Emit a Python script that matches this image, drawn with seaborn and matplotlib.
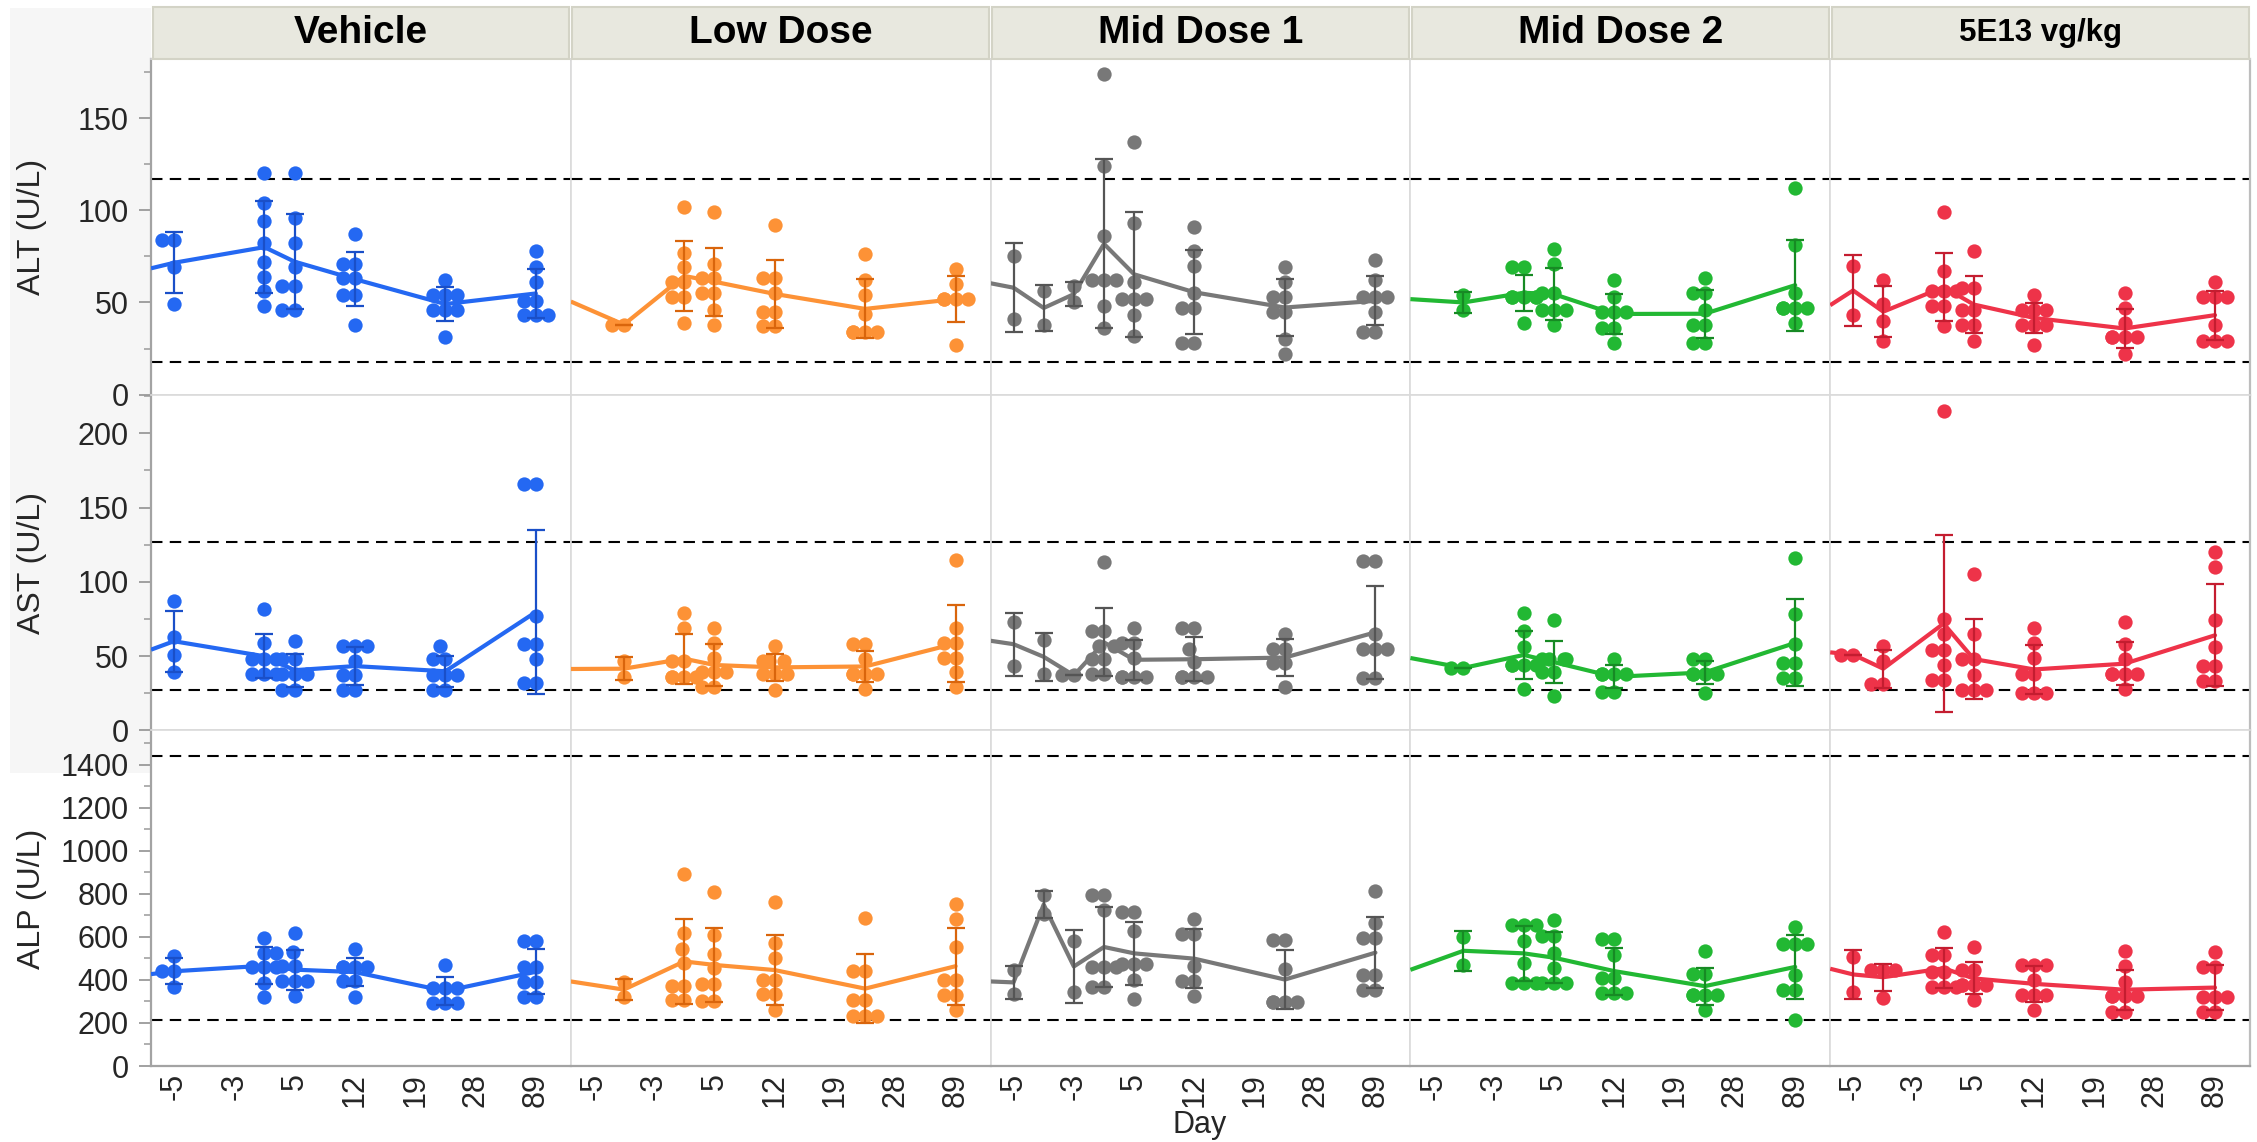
import numpy as np
import pandas as pd
import matplotlib
matplotlib.use("Agg")
import matplotlib.pyplot as plt
from matplotlib.patches import Rectangle
from matplotlib.ticker import MultipleLocator
import seaborn as sns

# ---------------- data ----------------
groups = ["Vehicle", "Low Dose", "Mid Dose 1", "Mid Dose 2", "5E13 vg/kg"]
colors = ["#2468F2", "#FD9236", "#787878", "#22B833", "#EE3349"]
bar_colors = ["#1A4FC8", "#D9650C", "#555555", "#178A24", "#C41D30"]
day_ticks = [0, 1, 2, 3, 4, 5, 6]
day_labels = ["-5", "-3", "5", "12", "19", "28", "89"]

# ALT (U/L): {day position: values}
alt_vehicle = {0: [84, 84, 69, 49], 1.5: [120, 104, 94, 82, 72, 64, 56, 48],
               2: [120, 96, 82, 69, 59, 59, 46, 46], 3: [87, 71, 71, 63, 63, 54, 54, 38],
               4.5: [62, 54, 54, 54, 46, 46, 46, 31], 6: [78, 69, 61, 51, 51, 43, 43, 43]}
alt_low = {0.5: [38, 38], 1.5: [102, 77, 69, 61, 61, 53, 53, 39],
           2: [99, 71, 63, 63, 55, 55, 46, 38], 3: [92, 63, 63, 55, 45, 45, 37, 37],
           4.5: [76, 62, 54, 44, 34, 34, 34, 34], 6: [68, 60, 52, 52, 52, 52, 27]}
alt_mid1 = {0: [75, 41], 0.5: [56, 38], 1: [59, 50], 1.5: [174, 124, 86, 62, 62, 62, 48, 36],
            2: [137, 93, 61, 52, 52, 52, 43, 32], 3: [91, 78, 70, 55, 47, 47, 28, 28],
            4.5: [69, 61, 53, 53, 45, 45, 30, 22], 6: [73, 62, 53, 53, 53, 45, 34, 34]}
alt_mid2 = {0.5: [54, 46], 1.5: [69, 69, 53, 53, 53, 53, 53, 39],
            2: [79, 71, 55, 55, 46, 46, 46, 38], 3: [62, 53, 45, 45, 45, 36, 36, 28],
            4.5: [63, 55, 55, 46, 38, 38, 28, 28], 6: [112, 81, 55, 47, 47, 47, 47, 39]}
alt_high = {0: [70, 43], 0.5: [62, 49, 40, 29], 1.5: [99, 67, 56, 56, 56, 48, 48, 37],
            2: [78, 58, 58, 46, 46, 38, 38, 29], 3: [54, 46, 46, 46, 38, 38, 38, 27],
            4.5: [55, 47, 39, 31, 31, 31, 31, 22], 6: [61, 53, 53, 53, 38, 29, 29, 29]}
alt_lead = [68.5, 50.5, 60.4, 51.8, 48.5]

# AST (U/L)
ast_vehicle = {0: [87, 63, 51, 39], 1.5: [82, 59, 48, 48, 48, 38, 38, 38],
               2: [60, 48, 48, 38, 38, 38, 27, 27], 3: [57, 57, 57, 47, 37, 37, 27, 27],
               4.5: [57, 48, 48, 37, 37, 37, 27, 27], 6: [166, 166, 77, 58, 58, 48, 32, 32]}
ast_low = {0.5: [47, 36], 1.5: [79, 69, 47, 47, 36, 36, 36, 36],
           2: [69, 59, 49, 39, 39, 39, 29, 29], 3: [57, 47, 47, 47, 38, 38, 38, 27],
           4.5: [58, 58, 48, 38, 38, 38, 38, 28], 6: [115, 69, 59, 59, 49, 49, 39, 29]}
ast_mid1 = {0: [73, 43], 0.5: [61, 38], 1: [37, 37], 1.5: [113, 67, 67, 57, 57, 48, 48, 38, 38],
            2: [69, 59, 59, 49, 36, 36, 36, 36], 3: [69, 69, 55, 46, 36, 36, 36, 36],
            4.5: [65, 55, 55, 45, 45, 29], 6: [114, 114, 65, 55, 55, 55, 35, 35]}
ast_mid2 = {0.5: [42, 42], 1.5: [79, 67, 56, 44, 44, 44, 44, 28],
            2: [74, 48, 48, 48, 48, 39, 39, 23], 3: [48, 38, 38, 38, 38, 26, 26],
            4.5: [48, 48, 38, 38, 38, 38, 25], 6: [116, 78, 58, 45, 45, 35, 35]}
ast_high = {0: [51, 51], 0.5: [57, 47, 31, 31], 1.5: [215, 75, 65, 54, 54, 44, 34, 34],
            2: [105, 65, 48, 48, 37, 27, 27, 27], 3: [69, 59, 49, 38, 38, 25, 25, 25],
            4.5: [73, 58, 48, 38, 38, 38, 38, 28], 6: [120, 110, 74, 56, 43, 43, 33, 33]}
ast_lead = [54.3, 41.3, 60.3, 48.7, 52.5]

# ALP (U/L)
alp_vehicle = {0: [512, 442, 442, 365], 1.5: [594, 527, 527, 458, 458, 458, 388, 319],
               2: [616, 532, 466, 466, 393, 393, 393, 323], 3: [543, 461, 461, 461, 461, 393, 393, 319],
               4.5: [469, 364, 364, 364, 292, 292, 292], 6: [583, 583, 458, 458, 391, 391, 319, 319]}
alp_low = {0.5: [390, 320], 1.5: [890, 618, 545, 479, 373, 373, 305, 305],
           2: [809, 610, 522, 455, 381, 381, 300, 300], 3: [761, 572, 502, 401, 401, 334, 334, 262],
           4.5: [688, 443, 443, 305, 305, 231, 231, 231], 6: [753, 683, 553, 401, 401, 331, 331, 258]}
alp_mid1 = {0: [444, 333], 0.5: [794, 707], 1: [581, 344],
            1.5: [794, 794, 724, 459, 459, 459, 368, 368], 2: [715, 715, 628, 472, 472, 472, 401, 313],
            3: [683, 612, 612, 467, 396, 396, 325], 4.5: [586, 586, 452, 297, 297, 297, 297],
            6: [814, 664, 593, 593, 423, 423, 352, 352]}
alp_mid2 = {0.5: [601, 470], 1.5: [657, 657, 657, 582, 480, 385, 385, 385],
            2: [677, 606, 606, 527, 456, 385, 385, 385], 3: [589, 589, 518, 409, 409, 338, 338, 338],
            4.5: [534, 428, 428, 330, 330, 330, 330, 258], 6: [644, 565, 565, 565, 425, 354, 354, 212]}
alp_high = {0: [507, 344], 0.5: [444, 444, 444, 318], 1.5: [625, 518, 518, 439, 439, 365, 365, 365],
            2: [551, 448, 448, 376, 376, 376, 376, 305], 3: [470, 470, 470, 400, 329, 329, 329, 258],
            4.5: [534, 463, 392, 325, 325, 325, 325, 251, 251], 6: [530, 459, 459, 322, 322, 322, 251, 251]}
alp_lead = [427, 393, 393, 447, 452]

analytes = ["ALT (U/L)", "AST (U/L)", "ALP (U/L)"]
panel_data = [[alt_vehicle, alt_low, alt_mid1, alt_mid2, alt_high],
              [ast_vehicle, ast_low, ast_mid1, ast_mid2, ast_high],
              [alp_vehicle, alp_low, alp_mid1, alp_mid2, alp_high]]
leads = [alt_lead, ast_lead, alp_lead]
ref_ranges = [(17.6, 117.2), (27, 127), (215, 1440)]
y_max = [182, 226, 1560]
y_major = [50, 50, 200]
y_minor = [25, 25, 100]

# ---------------- style ----------------
sns.set_style("white")
plt.rcParams["font.family"] = ["Liberation Sans", "DejaVu Sans"]

W, H = 2257, 1142
fig = plt.figure(figsize=(W / 100, H / 100), dpi=100)
left_px, right_px, top_px, bot_px = 151, 2250, 59, 1066
gs = fig.add_gridspec(3, 5, left=left_px / W, right=right_px / W,
                      top=1 - top_px / H, bottom=1 - bot_px / H, wspace=0, hspace=0)

# light grey backdrop of the y-axis label area
fig.add_artist(Rectangle((10 / W, 1 - 773 / H), (left_px - 10) / W, (773 - 8) / H,
                         transform=fig.transFigure, facecolor="#F6F6F6", edgecolor="none", zorder=0))

xlim = (-0.38, 6.58)
col_w = (right_px - left_px) / 5

for r in range(3):
    for c in range(5):
        ax = fig.add_subplot(gs[r, c])
        d = panel_data[r][c]
        df = pd.DataFrame([(p, v) for p, vals in d.items() for v in vals], columns=["pos", "value"])
        lo, hi = ref_ranges[r]
        ax.axhline(lo, color="black", lw=1.5, ls=(0, (5.5, 3.5)), zorder=1)
        ax.axhline(hi, color="black", lw=1.5, ls=(0, (5.5, 3.5)), zorder=1)
        sns.swarmplot(data=df, x="pos", y="value", native_scale=True, color=colors[c],
                      size=10.3, linewidth=0, warn_thresh=1, ax=ax, zorder=2)
        sns.lineplot(data=df, x="pos", y="value", estimator="mean", errorbar="sd",
                     err_style="bars", color=colors[c], linewidth=3, ax=ax, zorder=3,
                     err_kws=dict(ecolor=bar_colors[c], elinewidth=1.6, capsize=6.5,
                                  capthick=1.6, zorder=3.5))
        first = min(d.keys())
        ax.plot([xlim[0], first], [leads[r][c], np.mean(d[first])], color=colors[c],
                lw=3, zorder=3, solid_capstyle="butt")
        ax.set_xlim(*xlim)
        ax.set_ylim(0, y_max[r])
        ax.set_xlabel("")
        ax.set_ylabel("")
        for s in ax.spines.values():
            s.set_color("#DADADA")
            s.set_linewidth(1.2)
        if c == 0:
            ax.spines["left"].set_color("#A3A3A3")
            ax.spines["left"].set_linewidth(1.6)
            ax.yaxis.set_major_locator(MultipleLocator(y_major[r]))
            ax.yaxis.set_minor_locator(MultipleLocator(y_minor[r]))
            ax.tick_params(axis="y", which="major", left=True, length=9, width=1.3,
                           color="#9A9A9A", labelsize=22, pad=7)
            ax.tick_params(axis="y", which="minor", left=True, length=5, width=1.1,
                           color="#9A9A9A")
        else:
            ax.tick_params(axis="y", which="both", left=False, labelleft=False)
        if c == 4:
            ax.spines["right"].set_color("#BDBDBD")
            ax.spines["right"].set_linewidth(1.6)
        if r == 2:
            ax.spines["bottom"].set_color("#A3A3A3")
            ax.spines["bottom"].set_linewidth(1.6)
            ax.set_xticks(day_ticks)
            ax.set_xticklabels(day_labels, rotation=90, fontsize=22)
            ax.tick_params(axis="x", which="both", bottom=True, length=0, pad=5)
        else:
            ax.set_xticks(day_ticks)
            ax.tick_params(axis="x", which="both", bottom=False, labelbottom=False)
        ax.grid(False)

# facet headers
for c, name in enumerate(groups):
    x0 = left_px + c * col_w
    fig.add_artist(Rectangle(((x0 + 1.5) / W, 1 - 59 / H), (col_w - 3) / W, 52 / H,
                             transform=fig.transFigure, facecolor="#E8E8DF",
                             edgecolor="#D3D3C6", lw=1.5, zorder=1))
    fs = 22.5 if c == 4 else 28
    fig.text((x0 + col_w / 2) / W, 1 - 33 / H, name, ha="center", va="center",
             fontsize=fs, fontweight="bold", color="black", zorder=2)

# row labels
row_centers = [226.5, 562.5, 898.5]
for r, lab in enumerate(analytes):
    fig.text(32 / W, 1 - row_centers[r] / H, lab, rotation=90, ha="center", va="center",
             fontsize=23)

fig.text(1200 / W, 1 - 1125 / H, "Day", ha="center", va="center", fontsize=22)

fig.savefig("out.png", dpi=100)
